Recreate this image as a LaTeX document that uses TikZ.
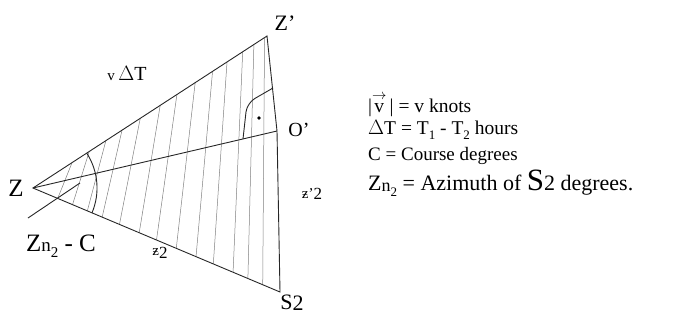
\documentclass[tikz,border=0pt]{standalone}
\usepackage{fontspec}
\setmainfont{Liberation Serif}
\usepackage{amsmath}
\usetikzlibrary{calc}
\begin{document}
\begin{tikzpicture}[x=1pt,y=-1pt,
  edge/.style={line width=0.9pt,black!85},
  hatch/.style={line width=0.5pt,black!50},
  lbl/.style={inner sep=0pt,font=\fontsize{22}{24}\selectfont},
  legend/.style={inner sep=0pt,anchor=west,font=\fontsize{19.5}{22}\selectfont}]
\useasboundingbox (0,0) rectangle (687,321);
\coordinate (Z) at (33,188);
\coordinate (Zp) at (267,36);
\coordinate (Op) at (277,131);
\coordinate (S2) at (280,292);
% hatching
\foreach \t in {0.10,0.16,0.22,0.28,0.35,0.43,0.50,0.58,0.66,0.73,0.81,0.87,0.93}{
  \pgfmathsetmacro\s{0.04+\t+0.3*\t*(1-\t)}
  \draw[hatch] ($(Z)!\t!(S2)$) -- ($(Z)!\s!(Zp)$);
}
% triangle
\draw[edge] (Z) -- (Zp) -- (Op) -- (S2) -- cycle;
\draw[edge] (Z) -- (Op);
% angle arc at Z
\draw[edge] (86.7,153.1) arc[start angle=-33,end angle=23,radius=64];
% leader for Zn2 - C
\coordinate (L1) at (28,218);
\coordinate (L2) at (80,183);
\draw[edge] (L1) -- (L2);
% right-angle mark at O'
\draw[edge,rounded corners=9] (273,88) -- (247,103) -- (243,139);
\fill (259,118) circle (1.8);
% labels
\node[lbl,font=\fontsize{25}{27}\selectfont] (lZ) at (16,188) {Z};
\node[lbl] (lZp) at (285,23) {Z’};
\node[lbl,font=\fontsize{20}{22}\selectfont] (lOp) at (299,130) {O’};
\node[lbl] (lS2) at (292,303) {S\raisebox{-0.1ex}{2}};
\node[lbl,font=\fontsize{20}{22}\selectfont] (lvdt) at (127,73) {{\fontsize{15}{16}\selectfont v}\,$\Delta$T};
\node[lbl,font=\fontsize{25}{27}\selectfont] (lzc) at (61,246) {Z{\fontsize{19}{20}\selectfont n}\raisebox{-0.5ex}{\fontsize{15}{16}\selectfont 2} - C};
\node[lbl,font=\fontsize{15}{16}\selectfont] (lz2) at (160,253) {ƶ\raisebox{-0.4ex}{\fontsize{17}{18}\selectfont 2}};
\node[lbl,font=\fontsize{15}{16}\selectfont] (lzp2) at (312,194) {ƶ’\raisebox{-0.2ex}{\fontsize{17}{18}\selectfont 2}};
% legend
\node[legend] (t1) at (368,104) {|$\overset{\rightarrow}{\text{v}}$\,| = v knots};
\node[legend] (t2) at (368,130) {$\Delta$T = T\raisebox{-0.5ex}{\fontsize{13}{14}\selectfont 1} - T\raisebox{-0.5ex}{\fontsize{13}{14}\selectfont 2} hours};
\node[legend,font=\fontsize{19}{22}\selectfont] (t3) at (368,156) {C = Course degrees};
\node[legend,font=\fontsize{22}{23}\selectfont] (t4) at (368,183) {Z\raisebox{-0.1ex}{\fontsize{18}{19}\selectfont n}\raisebox{-0.6ex}{\fontsize{13}{14}\selectfont 2} = Azimuth of {\fontsize{31}{32}\selectfont S}2 degrees.};
\end{tikzpicture}
\end{document}
